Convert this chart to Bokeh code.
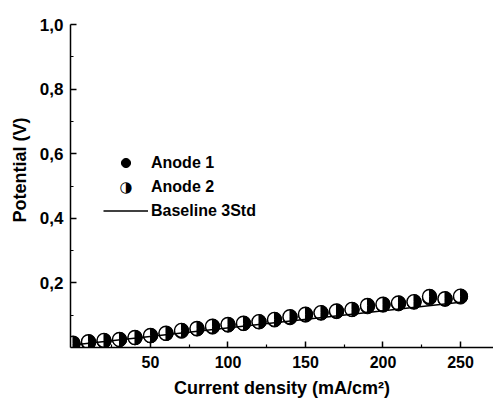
import math
from bokeh.plotting import figure
from bokeh.models import (Range1d, FixedTicker, CustomJSTickFormatter, Legend,
                          LegendItem, Label, Title)
from bokeh.embed import file_html
from bokeh.resources import INLINE

# ---- data ----
current = [0, 10, 20, 30, 40, 50, 60, 70, 80, 90, 100, 110, 120, 130, 140,
           150, 160, 170, 180, 190, 200, 210, 220, 230, 240, 250]
anode1 = [0.010, 0.014, 0.019, 0.024, 0.030, 0.036, 0.043, 0.050, 0.057, 0.063,
          0.069, 0.074, 0.079, 0.085, 0.092, 0.100, 0.106, 0.111, 0.117, 0.126,
          0.131, 0.135, 0.140, 0.153, 0.149, 0.156]
anode2 = [0.013, 0.018, 0.022, 0.025, 0.031, 0.037, 0.044, 0.053, 0.059, 0.066,
          0.071, 0.075, 0.080, 0.087, 0.095, 0.103, 0.108, 0.113, 0.118, 0.130,
          0.134, 0.138, 0.142, 0.158, 0.151, 0.159]
baseline_x = [0, 250]
baseline_y = [0.008, 0.140]

x_ticks = [50, 100, 150, 200, 250]
x_minor = [25, 75, 125, 175, 225]
y_ticks = [0.2, 0.4, 0.6, 0.8, 1.0]
y_minor = [0.1, 0.3, 0.5, 0.7, 0.9]

FONT = "Liberation Sans"

p = figure(frame_width=423, frame_height=323,
           x_range=Range1d(-1.6, 271.3), y_range=Range1d(0, 1.0),
           output_backend="svg", toolbar_location=None,
           min_border_left=70, min_border_right=0, min_border_top=24,
           min_border_bottom=50, outline_line_color=None,
           background_fill_color="white", border_fill_color="white")
p.grid.visible = False

r1 = p.scatter(current, anode1, size=14, fill_color="black", line_color="black")
r2 = p.scatter(current, anode2, size=14, fill_color="white", line_color="black",
               line_width=1.4)
p.wedge(current, anode2, radius=7, radius_units="screen",
        start_angle=-math.pi / 2, end_angle=math.pi / 2,
        fill_color="black", line_color="black")
rl = p.line(baseline_x, baseline_y, line_width=1.5, color="black")
# invisible stand-in for the "Anode 2" legend entry (symbol drawn as text below)
r2_legend = p.scatter(x=[], y=[], size=9, fill_alpha=0, line_alpha=0)

xa = p.xaxis[0]
ya = p.yaxis[0]
xa.ticker = FixedTicker(ticks=x_ticks, minor_ticks=x_minor)
ya.ticker = FixedTicker(ticks=y_ticks, minor_ticks=y_minor)
ya.formatter = CustomJSTickFormatter(code="return tick.toFixed(1).replace('.', ',');")
xa.axis_label = "Current density (mA/cm²)"
for ax in (xa, ya):
    ax.axis_line_width = 1.5
    ax.axis_line_color = "black"
    ax.major_tick_in = 6
    ax.major_tick_out = 0
    ax.minor_tick_in = 3
    ax.minor_tick_out = 0
    ax.major_tick_line_width = 1.5
    ax.minor_tick_line_width = 1.2
    ax.major_tick_line_color = "black"
    ax.minor_tick_line_color = "black"
    ax.major_label_text_font = FONT
    ax.major_label_text_font_style = "bold"
    ax.major_label_text_color = "black"
    ax.axis_label_text_font = FONT
    ax.axis_label_text_font_style = "bold"
    ax.axis_label_text_color = "black"
xa.major_label_text_font_size = "16px"
ya.major_label_text_font_size = "17px"
xa.axis_label_text_font_size = "18px"
xa.major_label_standoff = 8
ya.major_label_standoff = 7
xa.axis_label_standoff = 7

# y-axis title, placed above the frame centre as in the reference
ytitle = Title(text="Potential (V)", align="left", offset=125, standoff=14,
               text_font=FONT, text_font_style="bold", text_font_size="18px",
               text_color="black")
p.add_layout(ytitle, "left")

legend = Legend(items=[LegendItem(label="Anode 1", renderers=[r1]),
                       LegendItem(label="Anode 2", renderers=[r2_legend]),
                       LegendItem(label="Baseline 3Std", renderers=[rl])],
                location=(33, 125), padding=0, margin=0, spacing=1,
                glyph_width=45, glyph_height=23, label_standoff=3,
                label_height=20,
                label_text_font=FONT, label_text_font_style="bold",
                label_text_font_size="16px", label_text_color="black",
                border_line_alpha=0, background_fill_alpha=0)
p.add_layout(legend)

# half-filled symbol of the "Anode 2" legend entry
half = Label(x=55.5, y=160.5, x_units="screen", y_units="screen", text="◑",
             text_font="DejaVu Sans", text_font_size="15px", text_color="black",
             text_align="center", text_baseline="middle")
p.add_layout(half)

open("out.html", "w").write(file_html(p, INLINE))
